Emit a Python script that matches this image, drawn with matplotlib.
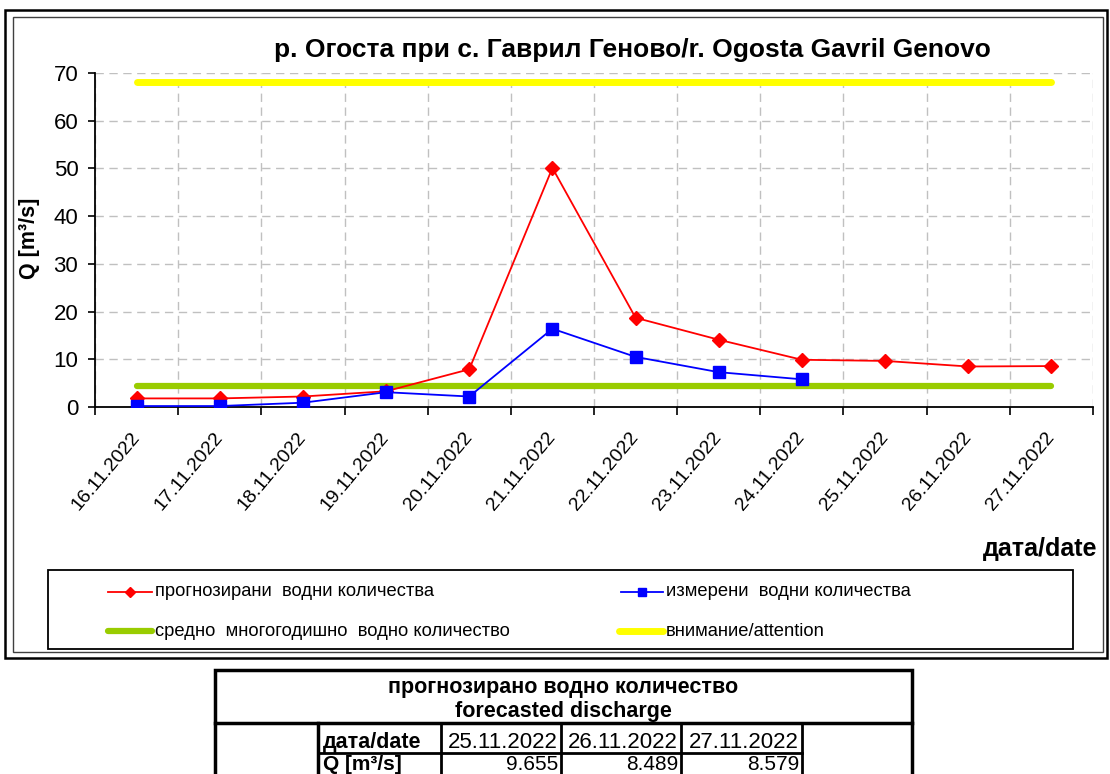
import numpy as np
import matplotlib
matplotlib.use('Agg')
import matplotlib.pyplot as plt
from matplotlib.lines import Line2D
from matplotlib.patches import Rectangle

plt.rcParams['font.family'] = ['Liberation Sans', 'DejaVu Sans']

# data
dates = ['16.11.2022', '17.11.2022', '18.11.2022', '19.11.2022', '20.11.2022', '21.11.2022',
         '22.11.2022', '23.11.2022', '24.11.2022', '25.11.2022', '26.11.2022', '27.11.2022']
forecast = [1.8, 1.8, 2.2, 3.3, 7.9, 50.1, 18.7, 14.1, 9.9, 9.655, 8.489, 8.579]
measured = [0.2, 0.2, 0.9, 3.1, 2.2, 16.4, 10.5, 7.3, 5.8]
mean_level = 4.4
attention_level = 68.2

title = 'р. Огоста при с. Гаврил Генoво/r. Ogosta Gavril Genovo'
legend_labels = ['прогнозирани  водни количества', 'измерени  водни количества',
                 'средно  многогодишно  водно количество', 'внимание/attention']

W, H = 1110, 774


def fx(px):
    return px / W


def fy(py):
    return 1 - py / H


def fig_line(fig, x0, x1, y0, y1, **kw):
    fig.add_artist(Line2D([fx(x0), fx(x1)], [fy(y0), fy(y1)], transform=fig.transFigure, **kw))


def fig_rect(fig, x0, y0, x1, y1, **kw):
    fig.add_artist(Rectangle((fx(x0), fy(y1)), fx(x1) - fx(x0), fy(y0) - fy(y1),
                             transform=fig.transFigure, fill=False, **kw))


fig = plt.figure(figsize=(W / 100, H / 100), dpi=100)

# outer double frame
fig_rect(fig, 5, 10, 1107, 658, lw=1.8, edgecolor='black')
fig_rect(fig, 13, 17, 1103, 652, lw=1.0, edgecolor='#404040')

# main chart
ax = fig.add_axes([fx(95), fy(407), fx(1093) - fx(95), fy(73) - fy(407)])
x = np.arange(len(dates)) + 0.5

styles = dict(red=dict(color='#ff0000', lw=1.3, marker='D', ms=7),
              blue=dict(color='#0000ff', lw=1.3, marker='s', ms=8.5),
              green=dict(color='#99cc00', lw=4.5, solid_capstyle='round'),
              yellow=dict(color='#ffff00', lw=5, solid_capstyle='round'))

ax.plot(x, [mean_level] * len(dates), zorder=2, **styles['green'])
ax.plot(x, [attention_level] * len(dates), zorder=2, **styles['yellow'])
ax.plot(x, forecast, zorder=3, **styles['red'])
ax.plot(x[:len(measured)], measured, zorder=4, **styles['blue'])

ax.set_xlim(0, len(dates))
ax.set_ylim(0, 70)
ax.set_yticks(range(0, 71, 10))
ax.set_xticks(x)
ax.set_xticklabels(dates, rotation=50, rotation_mode='anchor', ha='right', va='center',
                   fontsize=14)
ax.set_xticks(np.arange(len(dates) + 1), minor=True)
ax.tick_params(axis='x', which='major', length=0, pad=20)
ax.tick_params(axis='x', which='minor', length=6, width=1.2, direction='out')
ax.tick_params(axis='y', length=5, width=1.2, direction='out', labelsize=16, pad=7)

ax.grid(axis='y', which='major', color='#c0c0c0', lw=1, linestyle=(0, (6, 4)))
ax.grid(axis='x', which='minor', color='#c0c0c0', lw=1, linestyle=(0, (6, 4)))
ax.set_axisbelow(True)
for side in ['top', 'right']:
    ax.spines[side].set_visible(False)
for side in ['left', 'bottom']:
    ax.spines[side].set_linewidth(1.3)

fig.text(fx(632), fy(57), title, fontsize=19, fontweight='bold', ha='center', va='baseline')
fig.text(fx(30), fy(238), 'Q [m³/s]', fontsize=15.5, fontweight='bold', rotation=90,
         ha='center', va='center')
fig.text(fx(1097), fy(556), 'дата/date', fontsize=18, fontweight='bold', ha='right', va='baseline')

# legend box
fig_rect(fig, 48, 570, 1073, 649, lw=1.3, edgecolor='black')
entries = [('red', 108, 152, 592), ('blue', 621, 663, 592),
           ('green', 108, 152, 631), ('yellow', 619, 663, 631)]
for (key, x0, x1, y), label in zip(entries, legend_labels):
    st = dict(styles[key])
    mk = st.pop('marker', None)
    ms = st.pop('ms', None)
    fig_line(fig, x0, x1, y, y, **st)
    if mk:
        fig.add_artist(Line2D([fx((x0 + x1) / 2)], [fy(y)], transform=fig.transFigure,
                              marker=mk, ms=ms * 0.75, color=st['color'], lw=0))
    fig.text(fx(x1 + 3), fy(y), label, fontsize=13.2, ha='left', va='center')

# forecast table
fig_rect(fig, 215, 670, 912, 723, lw=2.5, edgecolor='black')
fig_line(fig, 215, 215, 723, 780, lw=2.5, color='black')
fig_line(fig, 912, 912, 723, 780, lw=2.5, color='black')
fig_line(fig, 318, 318, 723, 780, lw=2.5, color='black')
fig_line(fig, 318, 802, 753, 753, lw=2, color='black')
for cx in [441, 561, 681, 802]:
    fig_line(fig, cx, cx, 723, 780, lw=2, color='black')

fig.text(fx(563.5), fy(693), 'прогнозирано водно количество', fontsize=15.5, fontweight='bold',
         ha='center', va='baseline')
fig.text(fx(563.5), fy(717), 'forecasted discharge', fontsize=15.5, fontweight='bold',
         ha='center', va='baseline')
fig.text(fx(323), fy(748), 'дата/date', fontsize=15.5, fontweight='bold', ha='left', va='baseline')
fig.text(fx(323), fy(769.5), 'Q [m³/s]', fontsize=15, fontweight='bold', ha='left', va='baseline')
for cx, d, q in zip([558, 678, 799], dates[-3:], forecast[-3:]):
    fig.text(fx(cx), fy(748), d, fontsize=16, ha='right', va='baseline')
    fig.text(fx(cx), fy(769.5), f'{q:.3f}', fontsize=15, ha='right', va='baseline')

fig.savefig('out.png', dpi=100)
